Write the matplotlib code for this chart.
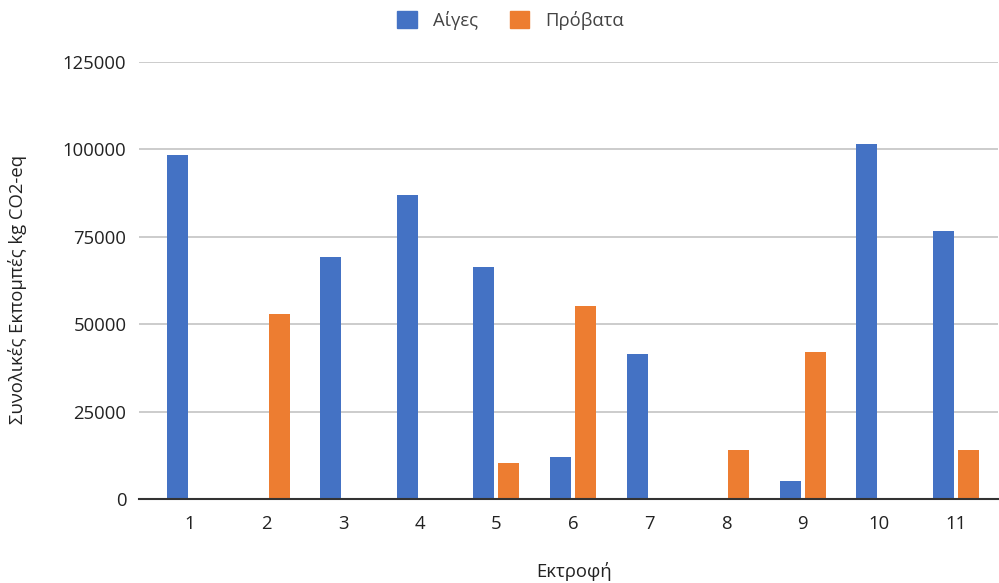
import matplotlib
matplotlib.use("Agg")
import matplotlib.pyplot as plt
import numpy as np
from matplotlib.patches import Patch

# Total emissions per farm (kg CO2-eq)
farms = ["1", "2", "3", "4", "5", "6", "7", "8", "9", "10", "11"]
goats = [98300, 0, 69400, 87100, 66500, 12200, 41500, 0, 5300, 101500, 76700]
sheep = [0, 52900, 0, 0, 10300, 55300, 0, 14100, 42000, 0, 14100]
series_names = ["Αίγες", "Πρόβατα"]
yticks = [0, 25000, 50000, 75000, 100000, 125000]

BLUE = "#4472C4"
ORANGE = "#ED7D31"
TEXT = "#222222"

plt.rcParams["font.family"] = ["Open Sans", "DejaVu Sans"]

fig = plt.figure(figsize=(9.99, 5.83), dpi=100)
ax = fig.add_axes([139 / 999, 1 - 499.3 / 583, (998 - 139) / 999, (499.3 - 62) / 583])

x = np.arange(len(farms))
w = 0.274
off = 0.163
ax.bar(x - off, goats, width=w, color=BLUE, zorder=3)
ax.bar(x + off, sheep, width=w, color=ORANGE, zorder=3)

ax.set_xlim(-0.666, 10.55)
ax.set_ylim(0, 125000)
ax.set_yticks(yticks)
ax.set_yticklabels([str(v) for v in yticks])
ax.set_xticks(x)
ax.set_xticklabels(farms)

ax.grid(axis="y", color="#cccccc", linewidth=1.4, zorder=0)
for s in ["top", "right", "left"]:
    ax.spines[s].set_visible(False)
ax.spines["bottom"].set_color("#333333")
ax.spines["bottom"].set_linewidth(1.5)
ax.spines["bottom"].set_zorder(4)

ax.tick_params(axis="both", length=0, labelsize=13.3, labelcolor=TEXT)
ax.tick_params(axis="x", pad=11)
ax.tick_params(axis="y", pad=9)

ax.set_xlabel("Εκτροφή", fontsize=13.3, color=TEXT, va="center")
ax.xaxis.set_label_coords(0.506, -0.166)
ax.set_ylabel("Συνολικές Εκπομπές kg CO2-eq", fontsize=13.3, color=TEXT, va="center")
ax.yaxis.set_label_coords(-0.141, 0.479)

handles = [Patch(facecolor=BLUE, edgecolor=BLUE), Patch(facecolor=ORANGE, edgecolor=ORANGE)]
fig.legend(handles, series_names, loc="upper center", bbox_to_anchor=(0.511, 1.01),
           ncol=2, frameon=False, fontsize=13.3, handlelength=1.05, handleheight=1.05,
           columnspacing=1.75, handletextpad=0.85, labelcolor="#444444")

fig.savefig("out.png", dpi=100)
